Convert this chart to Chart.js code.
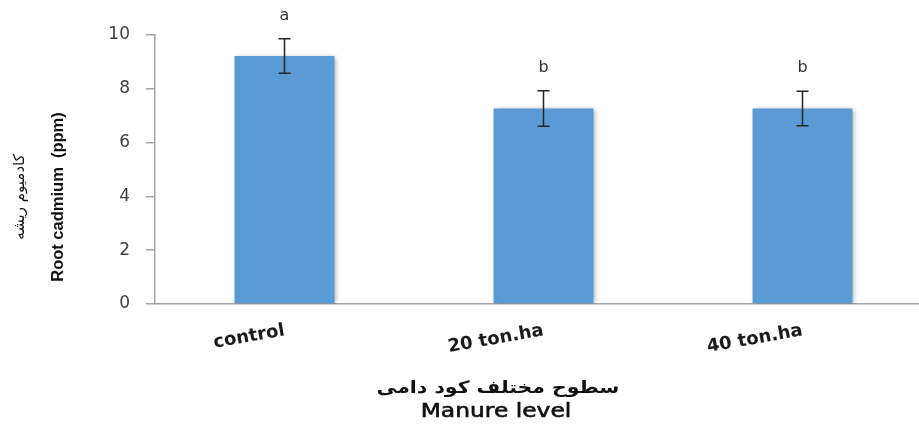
<!DOCTYPE html>
<html>
<head>
<meta charset="utf-8">
<script src="https://cdn.jsdelivr.net/npm/chart.js@4"></script>
<style>
  html, body { margin: 0; padding: 0; background: #fff; overflow: hidden; }
  #wrap { width: 919px; height: 425px; overflow: hidden; }
</style>
</head>
<body>
<div id="wrap"><canvas id="chart" width="940" height="425"></canvas></div>
<script>
// chart data
const categories = ["control", "20 ton.ha", "40 ton.ha"];
const rootCadmium = [9.22, 7.27, 7.27];
const stdError = [0.64, 0.66, 0.64];
const groupLetters = ["a", "b", "b"];
const yTicks = [0, 2, 4, 6, 8, 10];

const xTitleFa = "سطوح مختلف کود دامی";
const xTitleEn = "Manure level";
const yTitleFa = "کادمیوم ریشه";
const yTitleEn = "Root cadmium  (ppm)";

// soft shadow behind the bars
const barShadow = {
  id: "barShadow",
  beforeDatasetDraw(chart) {
    const ctx = chart.ctx;
    ctx.save();
    ctx.shadowColor = "rgba(0,0,0,0.35)";
    ctx.shadowBlur = 5;
    ctx.shadowOffsetX = 2;
    ctx.shadowOffsetY = 1;
  },
  afterDatasetDraw(chart) {
    chart.ctx.restore();
  },
};

// error bars + significance letters
const errorBars = {
  id: "errorBars",
  afterDatasetsDraw(chart) {
    const ctx = chart.ctx;
    const y = chart.scales.y;
    const meta = chart.getDatasetMeta(0);
    ctx.save();
    ctx.strokeStyle = "#262626";
    ctx.lineWidth = 1.5;
    meta.data.forEach((bar, i) => {
      const top = y.getPixelForValue(rootCadmium[i] + stdError[i]);
      const bot = y.getPixelForValue(rootCadmium[i] - stdError[i]);
      ctx.beginPath();
      ctx.moveTo(bar.x, top);
      ctx.lineTo(bar.x, bot);
      ctx.moveTo(bar.x - 6, top);
      ctx.lineTo(bar.x + 6, top);
      ctx.moveTo(bar.x - 6, bot);
      ctx.lineTo(bar.x + 6, bot);
      ctx.stroke();

      ctx.fillStyle = "#333333";
      ctx.font = "16px 'DejaVu Sans'";
      ctx.textAlign = "center";
      ctx.textBaseline = "middle";
      ctx.fillText(groupLetters[i], bar.x, top - 23);
    });
    ctx.restore();
  },
};

// axis titles, stretched a little like the original picture
function stretchedText(ctx, text, x, y, font, sx, angle, rtl, thicken) {
  ctx.save();
  ctx.translate(x, y);
  if (angle) ctx.rotate(angle);
  ctx.scale(sx, 1);
  ctx.font = font;
  ctx.direction = rtl ? "rtl" : "ltr";
  ctx.textAlign = "center";
  ctx.textBaseline = "middle";
  ctx.fillText(text, 0, 0);
  if (thicken) {
    ctx.strokeStyle = ctx.fillStyle;
    ctx.lineWidth = thicken;
    ctx.strokeText(text, 0, 0);
  }
  ctx.restore();
}

const axisTitles = {
  id: "axisTitles",
  afterDraw(chart) {
    const ctx = chart.ctx;
    ctx.save();
    ctx.fillStyle = "#111111";
    stretchedText(ctx, xTitleFa, 498, 389, "bold 17px 'DejaVu Sans'", 1.2, 0, true);
    stretchedText(ctx, xTitleEn, 496, 412, "19px 'DejaVu Sans'", 1.23, 0, false, 0.6);
    // vertical titles: text runs bottom-to-top
    stretchedText(ctx, yTitleFa, 20, 197, "15px 'DejaVu Sans'", 1, -Math.PI / 2, true);
    stretchedText(ctx, yTitleEn, 58, 197, "bold 16.5px 'Liberation Sans'", 1, -Math.PI / 2, false);
    ctx.restore();
  },
};

new Chart(document.getElementById("chart").getContext("2d"), {
  type: "bar",
  data: {
    labels: categories,
    datasets: [
      {
        data: rootCadmium,
        backgroundColor: "#5B9BD5",
        borderWidth: 0,
        categoryPercentage: 1,
        barPercentage: 0.386,
      },
    ],
  },
  options: {
    responsive: false,
    animation: false,
    devicePixelRatio: 1,
    layout: { padding: { top: 35, right: 8, left: 0, bottom: 0 } },
    plugins: {
      legend: { display: false },
      tooltip: { enabled: false },
    },
    scales: {
      x: {
        grid: { display: false, drawTicks: false },
        border: { color: "#A6A6A6", width: 1.5 },
        ticks: {
          color: "#1a1a1a",
          font: { family: "DejaVu Sans", size: 18, weight: "bold" },
          minRotation: 10,
          maxRotation: 10,
          padding: 16,
        },
        afterFit(scale) {
          scale.height = 121;
        },
      },
      y: {
        min: 0,
        max: 10,
        afterBuildTicks(scale) {
          scale.ticks = yTicks.map((v) => ({ value: v }));
        },
        grid: {
          drawOnChartArea: false,
          drawTicks: true,
          tickLength: 9,
          color: "#A6A6A6",
          lineWidth: 1.5,
        },
        border: { color: "#A6A6A6", width: 1.5 },
        ticks: {
          color: "#404040",
          font: { family: "DejaVu Sans", size: 17 },
          padding: 16,
        },
        afterFit(scale) {
          scale.width = 155;
        },
      },
    },
  },
  plugins: [barShadow, errorBars, axisTitles],
});
</script>
</body>
</html>
